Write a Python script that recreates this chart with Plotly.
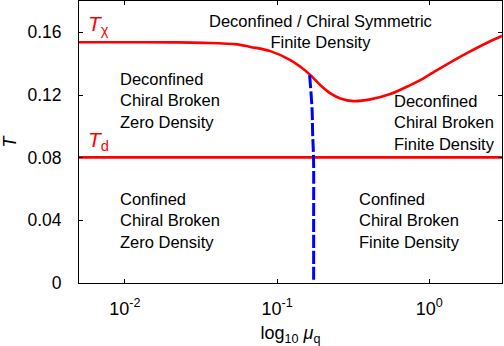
import numpy as np
import plotly.graph_objects as go

# chiral transition line T_chi(mu_q)
mu_chi = [0.005, 0.01, 0.02, 0.0328, 0.0547, 0.0668, 0.0903, 0.1222, 0.1422, 0.1656,
          0.1924, 0.2239, 0.2602, 0.3185, 0.4095, 0.554, 0.749, 0.871, 1.014, 1.668, 2.92, 3.0]
T_chi = [0.1537, 0.1537, 0.1536, 0.1533, 0.1523, 0.1507, 0.1480, 0.1423, 0.1380, 0.1327,
         0.1263, 0.1210, 0.1178, 0.1161, 0.1172, 0.1206, 0.1263, 0.1295, 0.1333, 0.1455, 0.1572, 0.1576]

# deconfinement line T_d
mu_d = [0.005, 3.0]
T_d = [0.0802, 0.0802]

# density onset line (blue dashed)
mu_n = [0.1636, 0.1698, 0.1712, 0.1735, 0.1738, 0.1738]
T_n = [0.1327, 0.1104, 0.095, 0.080, 0.040, 0.0]

x_tickvals = [0.01, 0.1, 1.0]
x_ticktext = ["10<sup>-2</sup>", "10<sup>-1</sup>", "10<sup>0</sup>"]
y_tickvals = [0, 0.04, 0.08, 0.12, 0.16]
y_ticktext = ["0", "0.04", "0.08", "0.12", "0.16"]

region_texts = [
    ("Deconfined / Chiral Symmetric<br>Finite Density", 0.1936, 0.1606, "center"),
    ("Deconfined<br>Chiral Broken<br>Zero Density", 0.00897, 0.1166, "left"),
    ("Deconfined<br>Chiral Broken<br>Finite Density", 0.566, 0.1025, "left"),
    ("Confined<br>Chiral Broken<br>Zero Density", 0.00897, 0.0397, "left"),
    ("Confined<br>Chiral Broken<br>Finite Density", 0.336, 0.0397, "left"),
]
line_labels = [
    ("<i>T</i><sub>χ</sub>", 0.00555, 0.1646),
    ("<i>T</i><sub>d</sub>", 0.00555, 0.0905),
]

FONT = "Liberation Sans, Arial, sans-serif"

fig = go.Figure()
fig.add_trace(go.Scatter(x=mu_chi, y=T_chi, mode="lines",
                         line=dict(color="#ff0000", width=2.6, shape="spline", smoothing=1.0),
                         showlegend=False, hoverinfo="skip"))
fig.add_trace(go.Scatter(x=mu_d, y=T_d, mode="lines",
                         line=dict(color="#ff0000", width=2.6),
                         showlegend=False, hoverinfo="skip"))
fig.add_trace(go.Scatter(x=mu_n, y=T_n, mode="lines",
                         line=dict(color="#0000ff", width=3, dash="13px,3px", shape="spline"),
                         showlegend=False, hoverinfo="skip"))

annotations = []
for txt, x, y, al in region_texts:
    annotations.append(dict(text=txt, x=np.log10(x), y=y, xref="x", yref="y",
                            xanchor="center" if al == "center" else "left",
                            yanchor="middle", align=al, showarrow=False,
                            font=dict(family=FONT, size=16.5, color="black")))
for txt, x, y in line_labels:
    annotations.append(dict(text=txt, x=np.log10(x), y=y, xref="x", yref="y",
                            xanchor="left", yanchor="middle", showarrow=False,
                            font=dict(family=FONT, size=21, color="#ff0000")))

fig.update_layout(
    width=504, height=346,
    margin=dict(l=79, r=2, t=1, b=63),
    plot_bgcolor="white", paper_bgcolor="white",
    font=dict(family=FONT, size=18, color="black"),
    annotations=annotations,
)
fig.update_xaxes(type="log", range=[np.log10(0.005), np.log10(3.0)],
                 tickvals=x_tickvals, ticktext=x_ticktext,
                 ticks="inside", ticklen=4, tickcolor="black",
                 showline=True, linecolor="black", linewidth=1, mirror="ticks",
                 showgrid=False, zeroline=False, automargin=False,
                 ticklabelstandoff=9,
                 tickfont=dict(family=FONT, size=18),
                 title=dict(text="log<sub>10</sub> <i>μ</i><sub>q</sub>",
                            font=dict(family=FONT, size=18), standoff=12))
fig.update_yaxes(range=[0, 0.18],
                 tickvals=y_tickvals, ticktext=y_ticktext,
                 ticks="inside", ticklen=4, tickcolor="black",
                 showline=True, linecolor="black", linewidth=1, mirror="ticks",
                 showgrid=False, zeroline=False, automargin=False,
                 ticklabelstandoff=13,
                 tickfont=dict(family=FONT, size=17.5),
                 title=dict(text="<i>T</i>", font=dict(family=FONT, size=18), standoff=13))

fig.write_html("out.html", config={"displayModeBar": False},
               post_script="document.body.style.margin='0';document.body.style.overflow='hidden';")
